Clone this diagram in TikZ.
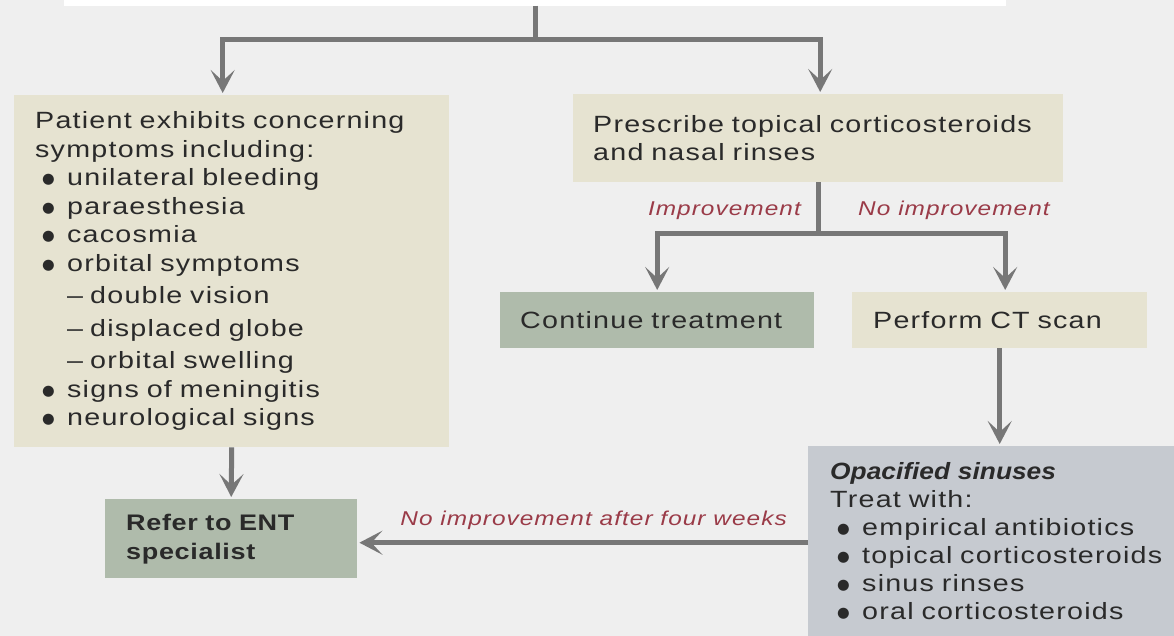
\documentclass[tikz,border=0pt]{standalone}
\usepackage{fontspec}
\setmainfont{Liberation Sans}[FakeStretch=1.22,LetterSpace=5.2]
\newfontfamily\boldfam{Liberation Sans}[FakeStretch=1.2,LetterSpace=3]
\newfontfamily\bifam{Liberation Sans}[FakeStretch=1.12,LetterSpace=0]
\newfontfamily\dotfam{DejaVu Sans}
\usetikzlibrary{arrows.meta}
\definecolor{bgc}{HTML}{EFEFEF}
\definecolor{beige}{HTML}{E6E3D1}
\definecolor{sage}{HTML}{AFBBAB}
\definecolor{slate}{HTML}{C6CAD0}
\definecolor{linec}{HTML}{777777}
\definecolor{redc}{HTML}{9A3B48}
\definecolor{txt}{HTML}{2A2A2A}
\newcommand\mybul{\hspace*{7pt}\makebox[25pt][l]{\raisebox{1.8pt}{\dotfam\fontsize{14.5}{15}\selectfont ●}}}
\newcommand\mydash{\hspace*{32pt}\makebox[23pt][l]{–}}
\begin{document}
\begin{tikzpicture}[x=1pt,y=-1pt,
  box/.style={anchor=north west, inner xsep=0pt, inner ysep=0pt, align=left, text=txt,
    font=\fontsize{23.5}{28.5}\selectfont},
  conn/.style={draw=linec, line width=5pt, -{Stealth[length=23pt,width=24pt,inset=11pt]}, shorten >=2pt},
  plain/.style={draw=linec, line width=5pt},
  lab/.style={text=redc, font=\fontsize{20}{22}\selectfont\itshape, inner sep=0pt}]
\useasboundingbox (0,0) rectangle (1174,636);
\clip (0,0) rectangle (1174,636);
\fill[bgc] (0,0) rectangle (1174,636);

\node[fill=white, anchor=south west, minimum width=942pt, minimum height=30pt] (top) at (64,6) {};

\node[box, fill=beige, minimum width=435pt, minimum height=352pt, text width=393pt, inner xsep=21pt] (sym) at (14,95)
{Patient exhibits concerning\\
symptoms including:\\
\mybul unilateral bleeding\\
\mybul paraesthesia\\
\mybul cacosmia\\
\mybul orbital symptoms\\[4pt]
\mydash double vision\\[4pt]
\mydash displaced globe\\[4pt]
\mydash orbital swelling\\
\mybul signs of meningitis\\
\mybul neurological signs};

\node[box, fill=beige, minimum width=490pt, minimum height=88pt, text width=450pt, inner xsep=20pt] (presc) at (573,94)
{Prescribe topical corticosteroids\\ and nasal rinses};

\node[box, fill=sage, minimum width=314pt, minimum height=56pt, text width=274pt, inner xsep=20pt] (cont) at (500,292)
{Continue treatment};

\node[box, fill=beige, minimum width=293pt, minimum height=56pt, text width=253pt, inner xsep=21pt] (ct) at (852,292)
{Perform CT scan};

\node[box, fill=slate, minimum width=380pt, minimum height=190pt, text width=336pt, inner xsep=22pt,
  font=\fontsize{23.5}{28}\selectfont] (opac) at (808,446)
{{\bifam\bfseries\itshape Opacified sinuses}\\
Treat with:\\
\mybul empirical antibiotics\\
\mybul topical corticosteroids\\
\mybul sinus rinses\\
\mybul oral corticosteroids};

\node[box, fill=sage, minimum width=251pt, minimum height=79pt, text width=210pt, inner xsep=21pt,
  font=\boldfam\bfseries\fontsize{22.5}{29}\selectfont] (ent) at (105,499)
{Refer to ENT\\ specialist};

\draw[conn] (top.south) -- ++(0,34) -| ([xshift=-9pt]sym.north);
\draw[conn] (top.south) -- ++(0,34) -| ([xshift=2pt]presc.north);
\draw[plain] (presc.south) -- ++(0,51) coordinate (split);
\draw[conn] (split) -| (cont.north);
\draw[conn] (split) -| ([xshift=5.5pt]ct.north);
\draw[conn] (ct.south) -- (ct.south |- opac.north);
\draw[conn] (sym.south) -- (ent.north);
\draw[conn] ([yshift=-4pt]ent.east -| opac.west) -- ([yshift=-4pt]ent.east);

\node[lab, anchor=base east] (l1) at (801,216) {Improvement};
\node[lab, anchor=base west] (l2) at (858,216) {No improvement};
\node[lab, anchor=base east] (l3) at (787,525) {No improvement after four weeks};
\end{tikzpicture}
\end{document}
